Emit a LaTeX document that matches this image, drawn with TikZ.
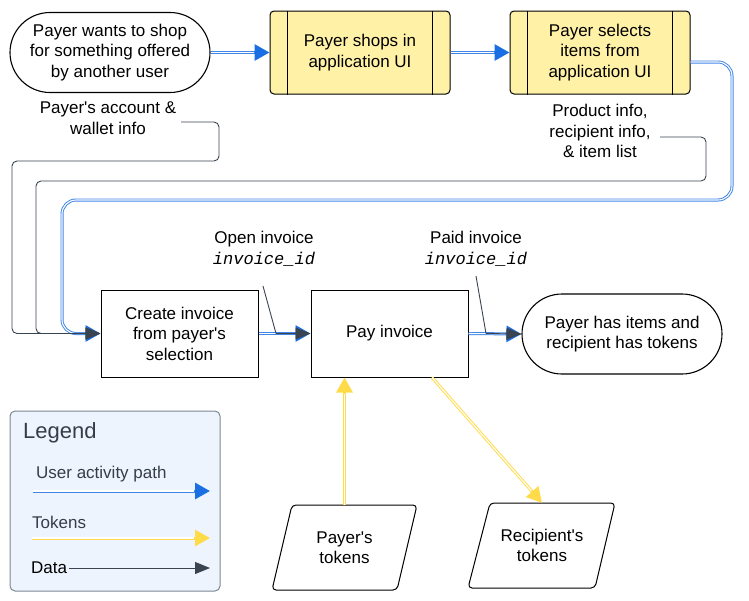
\documentclass[tikz,border=0pt]{standalone}
\usepackage{fontspec}
\setmainfont{Liberation Sans}
\setmonofont{Liberation Mono}
\usetikzlibrary{arrows.meta,calc}
\newcommand{\apq}{\textquotesingle}
\definecolor{ublue}{HTML}{1A6FE3}
\definecolor{ubline}{HTML}{3F86E8}
\definecolor{tokyel}{HTML}{FFDB4A}
\definecolor{datagray}{HTML}{3A4350}
\definecolor{boxyel}{HTML}{FFF2A6}
\definecolor{legfill}{HTML}{EDF4FE}
\definecolor{leggray}{HTML}{343E49}
\definecolor{legborder}{HTML}{7C8792}
\tikzset{
  txt/.style={font=\fontsize{17}{20.5}\selectfont, align=center, inner sep=2pt},
  terminal/.style={txt, draw=black, line width=1.1pt, rounded corners=40pt, minimum width=200pt, minimum height=80pt},
  subproc/.style={txt, draw=black, line width=1pt, fill=boxyel, rounded corners=4pt, minimum width=180pt, minimum height=83pt},
  procbox/.style={txt, draw=black, line width=1pt, minimum width=157pt, minimum height=87pt},
  useract/.style={draw=ubline, line width=3pt, -{Triangle[length=15pt,width=16pt,color=ublue]},
    postaction={draw=white, line width=1.1pt, -, shorten >=16pt}},
  tokarrow/.style={draw=tokyel, line width=3pt, -{Triangle[length=15pt,width=16pt,color=tokyel]},
    postaction={draw=white, line width=1.1pt, -, shorten >=16pt}},
  dataline/.style={draw=datagray, line width=0.9pt, rounded corners=5pt, -{Triangle[length=15pt,width=12pt]}},
  leader/.style={draw=datagray, line width=0.9pt},
  parallel/.style={draw=black, line width=1pt, rounded corners=4pt},
}
\begin{document}
\begin{tikzpicture}[x=1pt,y=-1pt]
\useasboundingbox (0,0) rectangle (749,600);

% top row
\node[terminal] (start) at (110,52.5) {Payer wants to shop\\for something offered\\by another user};
\node[subproc] (shops) at (360,52.5) {Payer shops in\\application UI};
\draw[line width=1pt] ($(shops.north west)+(18,0)$) -- ($(shops.south west)+(18,0)$);
\draw[line width=1pt] ($(shops.north east)+(-18,0)$) -- ($(shops.south east)+(-18,0)$);
\node[subproc] (selects) at (600,52.5) {Payer selects\\items from\\application UI};
\draw[line width=1pt] ($(selects.north west)+(18,0)$) -- ($(selects.south west)+(18,0)$);
\draw[line width=1pt] ($(selects.north east)+(-18,0)$) -- ($(selects.south east)+(-18,0)$);

\draw[useract] (start.east) -- (shops.west);
\draw[useract] (shops.east) -- (selects.west);

% labels for data
\node[txt] (acct) at (108,118) {Payer\apq s account \&\\wallet info};
\node[txt] (prod) at (600,131) {Product info,\\recipient info,\\\& item list};
\coordinate (acctout) at (181,122);
\coordinate (prodout) at (660,137);

% middle row
\node[procbox] (create) at (179.5,333.5) {Create invoice\\from payer\apq s\\selection};
\node[procbox] (pay) at (389.5,333.5) {Pay invoice};
\node[terminal] (end) at (622,334) {Payer has items and\\recipient has tokens};

\node[txt] (openlbl) at (264,248.5) {Open invoice\\{\ttfamily\itshape invoice\_id}};
\node[txt] (paidlbl) at (476,248.5) {Paid invoice\\{\ttfamily\itshape invoice\_id}};
\coordinate (openlead) at (263,286);
\coordinate (openjoin) at (276,333.5);
\coordinate (paidlead) at (476,276);
\coordinate (paidjoin) at (486,333.5);

% user activity path from selects to create
\draw[useract, rounded corners=14pt] ($(selects.east)+(0,9.5)$) -- (732,62) -- (732,200) -- (62,200) -- (62,333.5) -- (create.west);
\draw[useract] (create.east) -- (pay.west);
\draw[useract] (pay.east) -- (end.west);

% data paths
\draw[dataline] (acctout) -- (219,122) -- (219,161) -- (12,161) -- (12,333.5) -- (create.west);
\draw[dataline] (prodout) -- (706,137) -- (706,181) -- (36,181) -- (36,333.5) -- (create.west);
\draw[leader] (openlead) -- (openjoin);
\draw[dataline] (openjoin) -- (pay.west);
\draw[leader] (paidlead) -- (paidjoin);
\draw[dataline] (paidjoin) -- (end.west);

% token shapes
\draw[parallel] (292,505) -- (417,505) -- (397,590) -- (272,590) -- cycle;
\node[txt, minimum width=100pt, minimum height=85pt] (ptok) at (344.5,547.5) {Payer\apq s\\tokens};
\draw[parallel] (490,503) -- (615,503) -- (595,588) -- (468,588) -- cycle;
\node[txt, minimum width=100pt, minimum height=85pt] (rtok) at (542,545.5) {Recipient\apq s\\tokens};

\draw[tokarrow] (ptok.north) -- (ptok.north |- pay.south);
\draw[tokarrow] ($(pay.south)+(42.5,0)$) -- (rtok.north);

% legend
\draw[draw=legborder, fill=legfill, line width=1pt, rounded corners=5pt] (10,411) rectangle (220,591);
\node[anchor=west, inner sep=0pt, text=leggray, font=\fontsize{22}{26}\selectfont] (legtitle) at (23,433) {Legend};
\node[anchor=west, inner sep=0pt, text=leggray, font=\fontsize{17}{20}\selectfont] (legua) at (36,474) {User activity path};
\coordinate (uaA) at (33,491);
\coordinate (uaB) at (210,491);
\draw[useract] (uaA) -- (uaB);
\node[anchor=west, inner sep=0pt, text=leggray, font=\fontsize{17}{20}\selectfont] (legtok) at (32,522) {Tokens};
\coordinate (tkA) at (32,538);
\coordinate (tkB) at (210,538);
\draw[tokarrow] (tkA) -- (tkB);
\node[anchor=west, inner sep=0pt, text=black, font=\fontsize{17}{20}\selectfont] (legdata) at (31,568) {Data};
\coordinate (dtB) at (210,568);
\draw[dataline] (legdata.east) ++(2,0) -- (dtB);
\end{tikzpicture}
\end{document}
